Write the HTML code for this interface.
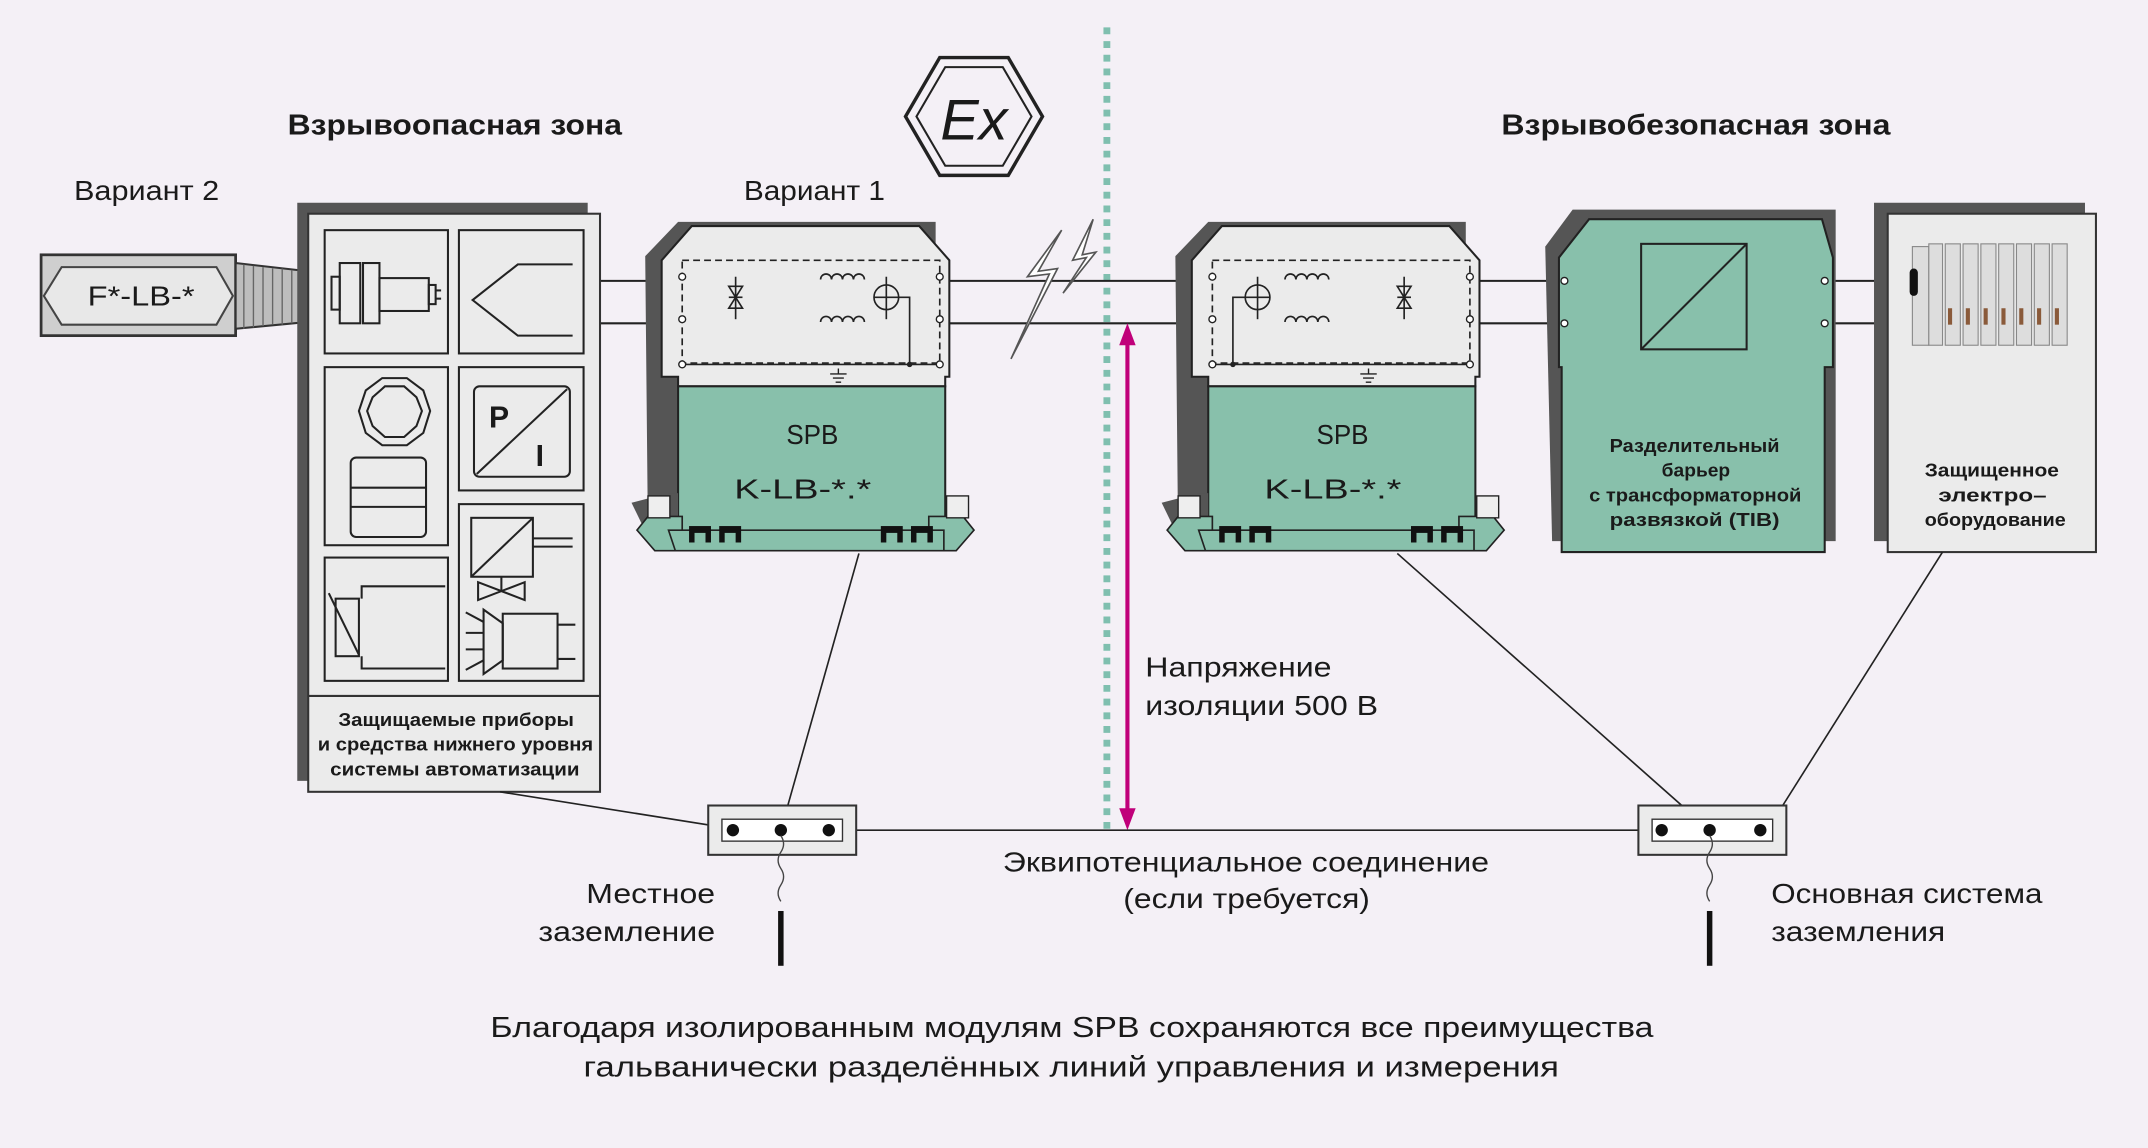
<!DOCTYPE html>
<html><head><meta charset="utf-8"><style>
html,body{margin:0;padding:0;background:#f4f0f6;}
svg{display:block;}
text{font-family:"Liberation Sans","DejaVu Sans",sans-serif;fill:#1a1a1a;}
</style></head><body>
<svg width="2148" height="1148" viewBox="0 0 1568 838" xmlns="http://www.w3.org/2000/svg">
<rect width="1568" height="838" fill="#f4f0f6"/>
<!-- titles -->
<text x="210" y="98" font-size="21" font-weight="bold" textLength="244" lengthAdjust="spacingAndGlyphs">Взрывоопасная зона</text>
<text x="1096" y="98" font-size="21" font-weight="bold" textLength="284" lengthAdjust="spacingAndGlyphs">Взрывобезопасная зона</text>
<text x="54" y="146" font-size="20" textLength="106" lengthAdjust="spacingAndGlyphs">Вариант 2</text>
<text x="543" y="146" font-size="20" textLength="103" lengthAdjust="spacingAndGlyphs">Вариант 1</text>
<!-- Ex hexagon -->
<polygon points="686,42 736,42 761,85 736,128 686,128 661,85" fill="none" stroke="#222" stroke-width="2.5"/>
<polygon points="690,49 732,49 753,85 732,121 690,121 669,85" fill="none" stroke="#222" stroke-width="1.5"/>
<text x="711" y="102" font-size="42" font-family="Liberation Serif" text-anchor="middle" font-style="italic">Ex</text>
<!-- dotted line -->
<line x1="808" y1="20" x2="808" y2="608" stroke="#7fbfaf" stroke-width="5" stroke-dasharray="5,5"/>
<!-- signal lines -->
<line x1="438" y1="205" x2="1395" y2="205" stroke="#222" stroke-width="1.5"/>
<line x1="438" y1="236" x2="1395" y2="236" stroke="#222" stroke-width="1.5"/>
<!-- lightning -->
<polygon points="775,168 750,202 766,200 738,262 772,196 758,198" fill="#fff" stroke="#555" stroke-width="1.2"/>
<polygon points="798,160 783,190 793,188 776,214 800,184 790,186" fill="#fff" stroke="#555" stroke-width="1.2"/>
<!-- cylinder -->
<rect x="30" y="186" width="142" height="59" fill="#cfcfcf" stroke="#333" stroke-width="2"/>
<polygon points="32,216 45,195 158,195 170,216 158,237 45,237" fill="#e8e8e8" stroke="#444" stroke-width="1.5"/>
<text x="64" y="223" font-size="20" textLength="78" lengthAdjust="spacingAndGlyphs">F*-LB-*</text>
<polygon points="172,192 225,198 225,235 172,240" fill="#bdbdbd" stroke="#333" stroke-width="1.5"/>
<g stroke="#666" stroke-width="1">
<line x1="178" y1="193" x2="178" y2="240"/><line x1="185" y1="194" x2="185" y2="239"/><line x1="192" y1="195" x2="192" y2="238"/><line x1="199" y1="196" x2="199" y2="237"/><line x1="206" y1="196" x2="206" y2="237"/><line x1="213" y1="197" x2="213" y2="236"/><line x1="220" y1="198" x2="220" y2="235"/></g>
<!-- left panel -->
<rect x="217" y="148" width="212" height="422" fill="#555"/>
<rect x="225" y="156" width="213" height="422" fill="#ebebeb" stroke="#333" stroke-width="1.5"/>
<line x1="225" y1="508" x2="438" y2="508" stroke="#333" stroke-width="1.5"/>
<text x="247" y="530" font-size="13.5" font-weight="bold" textLength="172" lengthAdjust="spacingAndGlyphs">Защищаемые приборы</text>
<text x="232" y="548" font-size="13.5" font-weight="bold" textLength="201" lengthAdjust="spacingAndGlyphs">и средства нижнего уровня</text>
<text x="241" y="566" font-size="13.5" font-weight="bold" textLength="182" lengthAdjust="spacingAndGlyphs">системы автоматизации</text>
<g fill="#ebebeb" stroke="#222" stroke-width="1.5">
<rect x="237" y="168" width="90" height="90"/><rect x="335" y="168" width="91" height="90"/>
<rect x="237" y="268" width="90" height="130"/><rect x="335" y="268" width="91" height="90"/>
<rect x="237" y="407" width="90" height="90"/><rect x="335" y="368" width="91" height="129"/>
</g>
<g fill="none" stroke="#222" stroke-width="1.5">
<rect x="248" y="192" width="15" height="44" fill="#ebebeb"/><rect x="265" y="192" width="12" height="44" fill="#ebebeb"/>
<rect x="242" y="202" width="6" height="24"/><rect x="277" y="203" width="36" height="24"/><rect x="313" y="208" width="5" height="14"/>
<line x1="318" y1="212" x2="322" y2="212"/><line x1="318" y1="218" x2="322" y2="218"/>
<polyline points="418,193 378,193 345,219 378,245 418,245"/>
<polygon points="279,276 297,276 309,285 314,300 309,316 297,325 279,325 267,316 262,300 267,285"/>
<polygon points="281,282 295,282 304,290 308,300 304,311 295,319 281,319 272,311 268,300 272,290"/>
<rect x="256" y="334" width="55" height="58" rx="4"/><line x1="256" y1="356" x2="311" y2="356"/><line x1="256" y1="370" x2="311" y2="370"/>
<rect x="346" y="282" width="70" height="66" rx="4"/><line x1="348" y1="346" x2="414" y2="284"/>
<polyline points="325,428 264,428 264,437"/><rect x="245" y="437" width="17" height="42"/><polyline points="264,479 264,488 325,488"/><line x1="240" y1="433" x2="262" y2="478"/>
<rect x="344" y="378" width="45" height="43"/><line x1="344" y1="421" x2="389" y2="378"/><line x1="389" y1="393" x2="418" y2="393"/><line x1="389" y1="399" x2="418" y2="399"/>
<line x1="366" y1="421" x2="366" y2="431"/><polygon points="349,425 383,438 383,425 349,438"/>
<rect x="367" y="448" width="40" height="40"/><line x1="407" y1="456" x2="420" y2="456"/><line x1="407" y1="481" x2="420" y2="481"/>
<polygon points="353,445 367,455 367,482 353,492"/>
<line x1="340" y1="447" x2="353" y2="454"/><line x1="340" y1="462" x2="353" y2="462"/><line x1="340" y1="474" x2="353" y2="474"/><line x1="340" y1="489" x2="353" y2="482"/>
</g>
<text x="357" y="312" font-size="22" font-weight="bold">P</text>
<text x="391" y="340" font-size="22" font-weight="bold">I</text>

<defs>
<g id="spb">
<polygon points="-12,25 12,0 200,0 200,120 12,120 12,230 -10,230" fill="#555"/>
<polygon points="0,28 22,3 188,3 210,28 210,113 207,113 207,120 12,120 12,113 0,113" fill="#ebebeb" stroke="#222" stroke-width="1.5"/>
<rect x="12" y="120" width="195" height="110" fill="#88c0ab" stroke="#222" stroke-width="1.5"/>
<polygon points="-22,205 5,198 12,198 12,230 10,240 -5,240" fill="#555"/>
<polygon points="-10,215 15,215 15,235 60,235 60,240 -5,240 -18,225" fill="#88c0ab" stroke="#222" stroke-width="1.2"/>
<polygon points="220,215 195,215 195,235 150,235 150,240 215,240 228,225" fill="#88c0ab" stroke="#222" stroke-width="1.2"/>
<polygon points="5,225 206,225 206,240 10,240" fill="#88c0ab" stroke="#222" stroke-width="1.2"/>
<rect x="-10" y="200" width="16" height="16" fill="#eee" stroke="#222"/>
<rect x="208" y="200" width="16" height="16" fill="#eee" stroke="#222"/>
<g fill="#111"><rect x="20" y="222" width="16" height="12"/><rect x="42" y="222" width="16" height="12"/><rect x="160" y="222" width="16" height="12"/><rect x="182" y="222" width="16" height="12"/></g>
<g fill="#88c0ab"><rect x="24" y="227" width="8" height="7"/><rect x="46" y="227" width="8" height="7"/><rect x="164" y="227" width="8" height="7"/><rect x="186" y="227" width="8" height="7"/></g>
<rect x="15" y="28" width="188" height="75" fill="none" stroke="#222" stroke-width="1.2" stroke-dasharray="5,3"/>
<line x1="15" y1="104" x2="203" y2="104" stroke="#222" stroke-width="1.2"/>
<g fill="#fff" stroke="#222" stroke-width="1"><circle cx="15" cy="40" r="2.5"/><circle cx="15" cy="71" r="2.5"/><circle cx="15" cy="104" r="2.5"/><circle cx="203" cy="40" r="2.5"/><circle cx="203" cy="71" r="2.5"/><circle cx="203" cy="104" r="2.5"/></g>
<path d="M129,107 v4 M123,111 h12 M125,114 h8 M127,117 h4" stroke="#222" stroke-width="1"/>
<text x="91" y="162" font-size="20" textLength="38" lengthAdjust="spacingAndGlyphs">SPB</text>
<text x="53" y="202" font-size="20" textLength="100" lengthAdjust="spacingAndGlyphs">K-LB-*.*</text>
</g>
<g id="tvs" fill="none" stroke="#222" stroke-width="1.2">
<line x1="0" y1="40" x2="0" y2="71"/><polygon points="-5,47 5,47 0,55"/><polygon points="-5,63 5,63 0,55"/><line x1="-5" y1="55" x2="5" y2="55"/>
</g>
<g id="coil" fill="none" stroke="#222" stroke-width="1.2"><path d="M0,0 a4,4 0 0 1 8,0 a4,4 0 0 1 8,0 a4,4 0 0 1 8,0 a4,4 0 0 1 8,0"/></g>
<g id="gdt" fill="none" stroke="#222" stroke-width="1.2"><circle cx="0" cy="55" r="9"/><line x1="0" y1="40" x2="0" y2="71"/><line x1="-9" y1="55" x2="9" y2="55"/></g>
</defs>
<g transform="translate(483,162)">
<use href="#spb"/>
<use href="#tvs" x="54"/>
<use href="#coil" x="116" y="42"/><use href="#coil" x="116" y="73"/>
<use href="#gdt" x="164"/>
<polyline points="173,55 181,55 181,104" fill="none" stroke="#222" stroke-width="1.2"/>
<circle cx="181" cy="104" r="2" fill="#222"/>
</g>
<g transform="translate(870,162)">
<use href="#spb"/>
<use href="#gdt" x="48"/>
<polyline points="39,55 30,55 30,104" fill="none" stroke="#222" stroke-width="1.2"/>
<circle cx="30" cy="104" r="2" fill="#222"/>
<use href="#coil" x="68" y="42"/><use href="#coil" x="68" y="73"/>
<use href="#tvs" x="155"/>
</g>
<!-- TIB -->
<polygon points="1128,180 1148,153 1340,153 1340,395 1133,395" fill="#555"/>
<polygon points="1138,188 1160,160 1330,160 1338,188 1338,268 1332,268 1332,403 1140,403 1140,268 1138,268" fill="#88c0ab" stroke="#222" stroke-width="1.5"/>
<rect x="1198" y="178" width="77" height="77" fill="none" stroke="#222" stroke-width="1.5"/>
<line x1="1198" y1="255" x2="1275" y2="178" stroke="#222" stroke-width="1.5"/>
<g fill="#fff" stroke="#222"><circle cx="1142" cy="205" r="2.5"/><circle cx="1142" cy="236" r="2.5"/><circle cx="1332" cy="205" r="2.5"/><circle cx="1332" cy="236" r="2.5"/></g>
<text x="1175" y="330" font-size="13.5" font-weight="bold" textLength="124" lengthAdjust="spacingAndGlyphs">Разделительный</text>
<text x="1213" y="348" font-size="13.5" font-weight="bold" textLength="50" lengthAdjust="spacingAndGlyphs">барьер</text>
<text x="1160" y="366" font-size="13.5" font-weight="bold" textLength="155" lengthAdjust="spacingAndGlyphs">с трансформаторной</text>
<text x="1175" y="384" font-size="13.5" font-weight="bold" textLength="124" lengthAdjust="spacingAndGlyphs">развязкой (TIB)</text>
<!-- right panel -->
<rect x="1368" y="148" width="154" height="247" fill="#555"/>
<rect x="1378" y="156" width="152" height="247" fill="#ebebeb" stroke="#333" stroke-width="1.5"/>
<g fill="#ddd" stroke="#888" stroke-width="0.8">
<rect x="1396" y="180" width="12" height="72"/><rect x="1408" y="178" width="10" height="74"/>
<rect x="1420" y="178" width="11" height="74"/><rect x="1433" y="178" width="11" height="74"/><rect x="1446" y="178" width="11" height="74"/><rect x="1459" y="178" width="11" height="74"/><rect x="1472" y="178" width="11" height="74"/><rect x="1485" y="178" width="11" height="74"/><rect x="1498" y="178" width="11" height="74"/>
</g>
<g fill="#8a5a3a"><rect x="1422" y="225" width="3" height="12"/><rect x="1435" y="225" width="3" height="12"/><rect x="1448" y="225" width="3" height="12"/><rect x="1461" y="225" width="3" height="12"/><rect x="1474" y="225" width="3" height="12"/><rect x="1487" y="225" width="3" height="12"/><rect x="1500" y="225" width="3" height="12"/></g>
<rect x="1394" y="196" width="6" height="20" rx="3" fill="#111"/>
<text x="1405" y="348" font-size="13.5" font-weight="bold" textLength="98" lengthAdjust="spacingAndGlyphs">Защищенное</text>
<text x="1415" y="366" font-size="13.5" font-weight="bold" textLength="79" lengthAdjust="spacingAndGlyphs">электро–</text>
<text x="1405" y="384" font-size="13.5" font-weight="bold" textLength="103" lengthAdjust="spacingAndGlyphs">оборудование</text>
<!-- magenta arrow -->
<line x1="823" y1="250" x2="823" y2="592" stroke="#c0007a" stroke-width="3"/>
<polygon points="817,252 829,252 823,236" fill="#c0007a"/>
<polygon points="817,590 829,590 823,606" fill="#c0007a"/>
<text x="836" y="494" font-size="20" textLength="136" lengthAdjust="spacingAndGlyphs">Напряжение</text>
<text x="836" y="522" font-size="20" textLength="170" lengthAdjust="spacingAndGlyphs">изоляции 500 В</text>
<!-- ground -->
<line x1="365" y1="578" x2="535" y2="605" stroke="#222" stroke-width="1.2"/>
<line x1="627" y1="404" x2="570" y2="606" stroke="#222" stroke-width="1.2"/>
<line x1="1020" y1="404" x2="1248" y2="606" stroke="#222" stroke-width="1.2"/>
<line x1="1418" y1="403" x2="1290" y2="606" stroke="#222" stroke-width="1.2"/>
<line x1="535" y1="606" x2="1290" y2="606" stroke="#222" stroke-width="1.2"/>
<g>
<rect x="517" y="588" width="108" height="36" fill="#ebebeb" stroke="#333" stroke-width="1.5"/>
<rect x="527" y="598" width="88" height="16" fill="#fff" stroke="#333"/>
<circle cx="535" cy="606" r="4.5" fill="#111"/><circle cx="570" cy="606" r="4.5" fill="#111"/><circle cx="605" cy="606" r="4.5" fill="#111"/>
<path d="M570,610 q4,6 0,12 q-4,6 0,12 q4,6 0,12 q-4,6 0,12" fill="none" stroke="#444"/>
<rect x="568" y="665" width="4" height="40" fill="#111"/>
<rect x="1196" y="588" width="108" height="36" fill="#ebebeb" stroke="#333" stroke-width="1.5"/>
<rect x="1206" y="598" width="88" height="16" fill="#fff" stroke="#333"/>
<circle cx="1213" cy="606" r="4.5" fill="#111"/><circle cx="1248" cy="606" r="4.5" fill="#111"/><circle cx="1285" cy="606" r="4.5" fill="#111"/>
<path d="M1248,610 q4,6 0,12 q-4,6 0,12 q4,6 0,12 q-4,6 0,12" fill="none" stroke="#444"/>
<rect x="1246" y="665" width="4" height="40" fill="#111"/>
</g>
<text x="428" y="659" font-size="20" textLength="94" lengthAdjust="spacingAndGlyphs">Местное</text>
<text x="393" y="687" font-size="20" textLength="129" lengthAdjust="spacingAndGlyphs">заземление</text>
<text x="1293" y="659" font-size="20" textLength="198" lengthAdjust="spacingAndGlyphs">Основная система</text>
<text x="1293" y="687" font-size="20" textLength="127" lengthAdjust="spacingAndGlyphs">заземления</text>
<text x="732" y="636" font-size="20" textLength="355" lengthAdjust="spacingAndGlyphs">Эквипотенциальное соединение</text>
<text x="820" y="663" font-size="20" textLength="180" lengthAdjust="spacingAndGlyphs">(если требуется)</text>
<text x="358" y="757" font-size="21" textLength="849" lengthAdjust="spacingAndGlyphs">Благодаря изолированным модулям SPB сохраняются все преимущества</text>
<text x="426" y="786" font-size="21" textLength="712" lengthAdjust="spacingAndGlyphs">гальванически разделённых линий управления и измерения</text>
</svg>
</body></html>
